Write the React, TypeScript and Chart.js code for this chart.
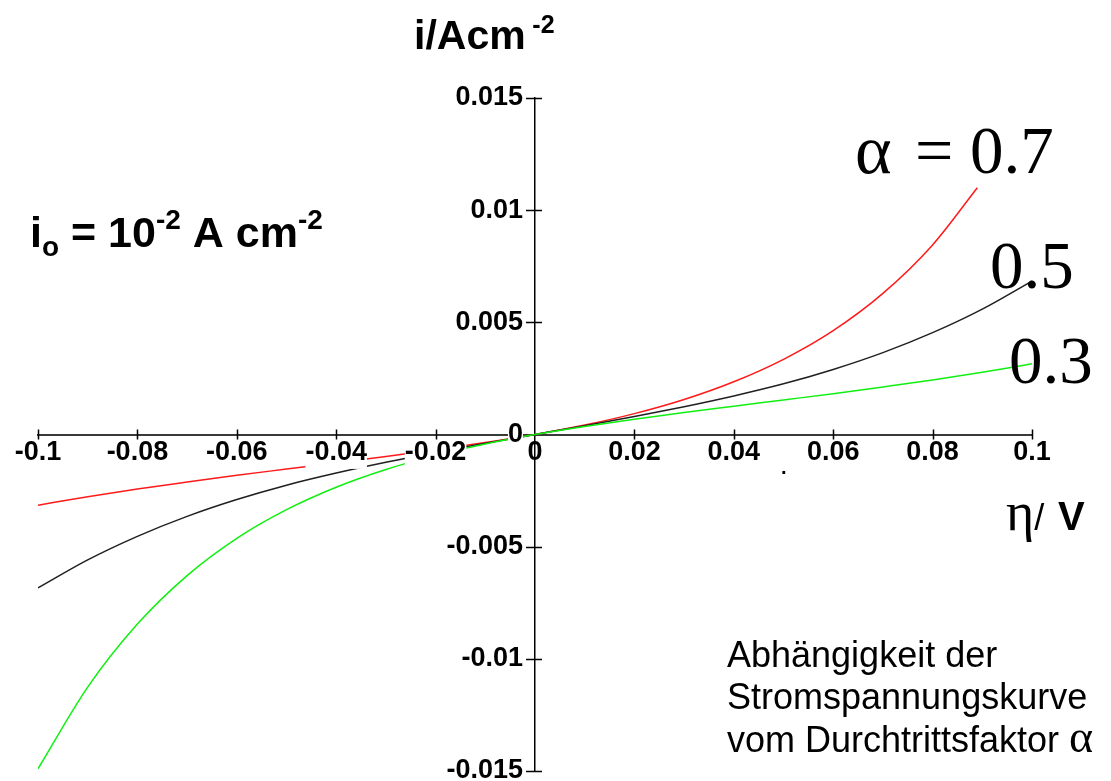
import React, { useEffect, useRef } from "react";
import { Chart, registerables } from "chart.js";

Chart.register(...registerables);

// Overpotential η / V (x values)
const etaValues = [-0.1, -0.09, -0.08, -0.07, -0.06, -0.05, -0.04, -0.03, -0.02, -0.01, 0, 0.01, 0.02, 0.03, 0.04, 0.05, 0.06, 0.07, 0.08, 0.09, 0.1];
const etaAlpha07 = [-0.1, -0.09, -0.08, -0.07, -0.06, -0.05, -0.04, -0.03, -0.02, -0.01, 0, 0.01, 0.02, 0.03, 0.04, 0.05, 0.06, 0.07, 0.08, 0.089];

// Current density i / A cm^-2
const currentAlpha07 = [-0.00315, -0.00277, -0.00243, -0.00212, -0.00182, -0.00154, -0.00126, -0.00098, -0.00068, -0.00036, 0, 0.00042, 0.00093, 0.00156, 0.00235, 0.00335, 0.00463, 0.00629, 0.00845, 0.0110];
const currentAlpha05 = [-0.00684, -0.00559, -0.00454, -0.00365, -0.0029, -0.00226, -0.00172, -0.00124, -0.0008, -0.00039, 0, 0.00039, 0.0008, 0.00124, 0.00172, 0.00226, 0.0029, 0.00365, 0.00454, 0.00559, 0.00684];
const currentAlpha03 = [-0.0149, -0.01126, -0.00845, -0.00629, -0.00463, -0.00335, -0.00235, -0.00156, -0.00093, -0.00042, 0, 0.00036, 0.00068, 0.00098, 0.00126, 0.00154, 0.00182, 0.00212, 0.00243, 0.00277, 0.00315];

const xTickValues = [-0.1, -0.08, -0.06, -0.04, -0.02, 0, 0.02, 0.04, 0.06, 0.08, 0.1];
const xTickLabels = ["-0.1", "-0.08", "-0.06", "-0.04", "-0.02", "0", "0.02", "0.04", "0.06", "0.08", "0.1"];
const yTickValues = [-0.015, -0.01, -0.005, 0, 0.005, 0.01, 0.015];
const yTickLabels = ["-0.015", "-0.01", "-0.005", "0", "0.005", "0.01", "0.015"];

const SANS = '"Liberation Sans", Arial, Helvetica, sans-serif';
const SERIF = '"Liberation Serif", "Times New Roman", serif';

type Run = { t: string; font: string; dy?: number; x?: number };

function drawRuns(ctx: CanvasRenderingContext2D, x: number, baseline: number, runs: Run[]) {
  let cx = x;
  for (const r of runs) {
    ctx.font = r.font;
    if (r.x !== undefined) cx = r.x;
    ctx.fillText(r.t, cx, baseline + (r.dy || 0));
    cx += ctx.measureText(r.t).width;
  }
}

const shiftYLabels = {
  id: "shiftYLabels",
  beforeDatasetsDraw(chart: any) {
    const ys = chart.scales.y;
    const x0 = chart.scales.x.getPixelForValue(0);
    const items = ys.getLabelItems(chart.chartArea);
    for (const it of items) {
      it.options.translation[0] = x0 - 12;
    }
  },
};

const crossTicks = {
  id: "crossTicks",
  afterDraw(chart: any) {
    const ctx: CanvasRenderingContext2D = chart.ctx;
    const xs = chart.scales.x;
    const ys = chart.scales.y;
    const x0 = xs.getPixelForValue(0);
    const y0 = ys.getPixelForValue(0);
    ctx.save();
    ctx.strokeStyle = "#000";
    ctx.lineWidth = 1.5;
    ctx.beginPath();
    for (const v of xTickValues) {
      if (v === 0) continue;
      const px = Math.round(xs.getPixelForValue(v)) + 0.5;
      ctx.moveTo(px, y0 - 5);
      ctx.lineTo(px, y0 + 5);
    }
    for (const v of yTickValues) {
      if (v === 0) continue;
      const py = Math.round(ys.getPixelForValue(v)) + 0.5;
      ctx.moveTo(x0 - 9, py);
      ctx.lineTo(x0 + 7, py);
    }
    ctx.stroke();
    ctx.restore();
  },
};

const annotations = {
  id: "annotations",
  afterDraw(chart: any) {
    const ctx: CanvasRenderingContext2D = chart.ctx;
    ctx.save();
    ctx.fillStyle = "#000";
    ctx.textBaseline = "alphabetic";
    ctx.textAlign = "left";
    // y axis title
    drawRuns(ctx, 414, 49, [
      { t: "i/Acm", font: `bold 41px ${SANS}` },
      { t: " ", font: `bold 24px ${SANS}` },
      { t: "-2", font: `bold 25px ${SANS}`, dy: -16 },
    ]);
    // exchange current density
    drawRuns(ctx, 30, 247, [
      { t: "i", font: `bold 43px ${SANS}` },
      { t: "o", font: `bold 28px ${SANS}`, dy: 9 },
      { t: " = 10", font: `bold 43px ${SANS}` },
      { t: "-2", font: `bold 28px ${SANS}`, dy: -18 },
      { t: " A cm", font: `bold 43px ${SANS}` },
      { t: "-2", font: `bold 28px ${SANS}`, dy: -18 },
    ]);
    // curve labels
    drawRuns(ctx, 855, 173, [
      { t: "α", font: `70px ${SERIF}` },
      { t: "=", font: `68px ${SERIF}`, x: 915 },
      { t: "0.7", font: `67px ${SERIF}`, x: 970 },
    ]);
    drawRuns(ctx, 990, 288, [{ t: "0.5", font: `67px ${SERIF}` }]);
    drawRuns(ctx, 1009, 383, [{ t: "0.3", font: `67px ${SERIF}` }]);
    // x axis title
    drawRuns(ctx, 1006, 530, [
      { t: "η", font: `54px ${SERIF}` },
      { t: "/ ", font: `36px ${SANS}` },
      { t: "V", font: `bold 40px ${SANS}`, x: 1058 },
    ]);
    drawRuns(ctx, 781, 474, [{ t: ".", font: `bold 20px ${SANS}` }]);
    // caption
    drawRuns(ctx, 727, 667, [{ t: "Abhängigkeit der", font: `36px ${SANS}` }]);
    drawRuns(ctx, 727, 709, [{ t: "Stromspannungskurve", font: `36px ${SANS}` }]);
    drawRuns(ctx, 727, 752, [
      { t: "vom Durchtrittsfaktor ", font: `36px ${SANS}` },
      { t: "α", font: `46px ${SERIF}` },
    ]);
    ctx.restore();
  },
};

function App() {
  const canvasRef = useRef<HTMLCanvasElement | null>(null);

  useEffect(() => {
    if (!canvasRef.current) return;
    const mk = (xs: number[], ys: number[]) => xs.map((x, i) => ({ x, y: ys[i] }));
    const tickFont = { family: SANS, size: 27, weight: "bold" as const };
    const chart = new Chart(canvasRef.current, {
      type: "line",
      data: {
        datasets: [
          { label: "α = 0.3", data: mk(etaValues, currentAlpha03), borderColor: "#10f010" },
          { label: "α = 0.5", data: mk(etaValues, currentAlpha05), borderColor: "#202020" },
          { label: "α = 0.7", data: mk(etaAlpha07, currentAlpha07), borderColor: "#ff1a1a" },
        ],
      },
      options: {
        animation: false,
        responsive: true,
        maintainAspectRatio: false,
        layout: { padding: { left: 38, right: 79, top: 98, bottom: 10 } },
        plugins: { legend: { display: false }, tooltip: { enabled: false } },
        elements: {
          point: { radius: 0 },
          line: { borderWidth: 1.5, cubicInterpolationMode: "monotone" },
        },
        scales: {
          x: {
            type: "linear",
            min: -0.1,
            max: 0.1,
            position: { y: 0 },
            afterBuildTicks: (s: any) => {
              s.ticks = xTickValues.map((v) => ({ value: v }));
            },
            grid: { display: false, drawTicks: false },
            border: { display: true, color: "#3a3a3a", width: 2 },
            ticks: {
              z: 1,
              padding: 2,
              autoSkip: false,
              maxRotation: 0,
              color: "#000",
              font: { ...tickFont, lineHeight: 1.2 },
              callback: (_v: any, i: number) => xTickLabels[i],
              showLabelBackdrop: true,
              backdropPadding: 0,
              backdropColor: (c: any) => (c.tick && c.tick.value === 0 ? "rgba(0,0,0,0)" : "#ffffff"),
            },
          },
          y: {
            type: "linear",
            min: -0.015,
            max: 0.015,
            position: { x: 0 },
            afterBuildTicks: (s: any) => {
              s.ticks = yTickValues.map((v) => ({ value: v }));
            },
            grid: { display: false, drawTicks: false },
            border: { display: true, color: "#000", width: 1.5 },
            ticks: {
              z: 1,
              padding: 0,
              autoSkip: false,
              color: "#000",
              font: { ...tickFont, lineHeight: 0.6 },
              callback: (_v: any, i: number) => yTickLabels[i],
              showLabelBackdrop: true,
              backdropPadding: { top: 6, bottom: 6, left: 0, right: 0 },
              backdropColor: "#ffffff",
            },
          },
        },
      },
      plugins: [shiftYLabels, crossTicks, annotations],
    } as any);
    return () => chart.destroy();
  }, []);

  return (
    <div style={{ position: "absolute", left: 0, top: 0, width: 1111, height: 781, background: "#fff" }}>
      <canvas ref={canvasRef} />
    </div>
  );
}

export default App;
